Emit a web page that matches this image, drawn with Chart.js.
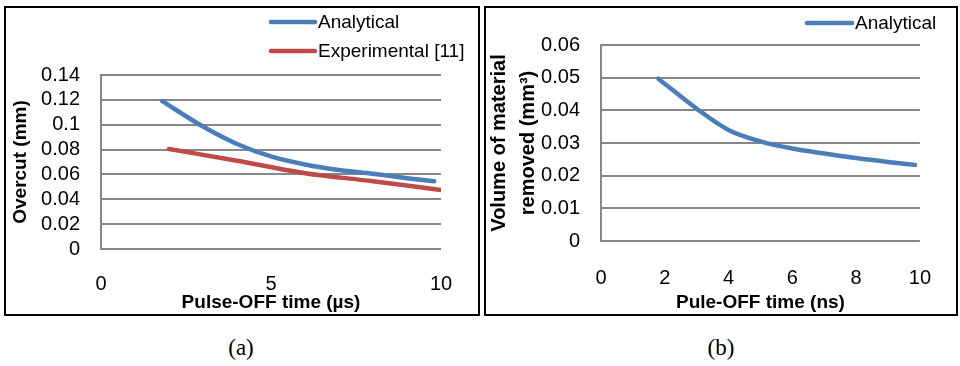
<!DOCTYPE html>
<html>
<head>
<meta charset="utf-8">
<script src="https://cdn.jsdelivr.net/npm/chart.js@4.4.1/dist/chart.umd.min.js"></script>
<style>
  html, body { margin:0; padding:0; background:#fff; }
  body { width:960px; height:366px; position:relative; overflow:hidden; }
  .panel { position:absolute; top:6px; height:310px; border:2px solid #000; box-sizing:border-box; }
  #boxA { left:4px; width:476px; }
  #boxB { left:484px; width:474px; }
  .panel canvas { display:block; }
  .cap { position:absolute; top:335px; width:60px; text-align:center; font-family:'Liberation Serif','Times New Roman',serif; font-size:23px; color:#000; }
</style>
</head>
<body>
<div class="panel" id="boxA"><canvas id="chartA" width="472" height="306"></canvas></div>
<div class="panel" id="boxB"><canvas id="chartB" width="470" height="306"></canvas></div>
<div class="cap" style="left:211px;">(a)</div>
<div class="cap" style="left:691px;">(b)</div>
<script>
// (a) overcut vs pulse-off time
const xAnalyticalA = [1.8, 3, 4, 5, 6, 7, 8, 9, 9.8];
const overcutAnalytical = [0.119, 0.0985, 0.0845, 0.0745, 0.068, 0.0635, 0.0605, 0.057, 0.0545];
const xExperimentalA = [2, 4, 6, 8, 10];
const overcutExperimental = [0.0805, 0.071, 0.061, 0.0545, 0.0475];
const xTickLabelsA = ['0', '5', '10'];
const yTickLabelsA = ['0', '0.02', '0.04', '0.06', '0.08', '0.1', '0.12', '0.14'];

// (b) volume removed vs pulse-off time
const xAnalyticalB = [1.8, 3, 4, 5, 6, 7, 8, 9, 9.85];
const volumeAnalytical = [0.0497, 0.0405, 0.034, 0.0305, 0.0283, 0.0268, 0.0254, 0.0242, 0.0233];
const xTickLabelsB = ['0', '2', '4', '6', '8', '10'];
const yTickLabelsB = ['0', '0.01', '0.02', '0.03', '0.04', '0.05', '0.06'];

const BLUE = '#4A7EBB', RED = '#BE4B48', GRID = '#878787';
Chart.defaults.font.family = "'Liberation Sans', Arial, sans-serif";
Chart.defaults.color = '#000';

const pts = (xs, ys) => xs.map((x, i) => ({ x: x, y: ys[i] }));

// legend drawn as stacked rows, line sample then label
const lineLegend = {
  id: 'lineLegend',
  afterDraw(chart, args, opts) {
    const ctx = chart.ctx;
    ctx.save();
    chart.data.datasets.forEach((ds, i) => {
      const y = opts.y + i * opts.rowGap;
      ctx.strokeStyle = ds.borderColor;
      ctx.lineWidth = ds.borderWidth;
      ctx.lineCap = 'round';
      ctx.beginPath(); ctx.moveTo(opts.x, y); ctx.lineTo(opts.x + opts.len, y); ctx.stroke();
      ctx.fillStyle = '#000';
      ctx.font = opts.font;
      ctx.textBaseline = 'middle';
      ctx.fillText(ds.label, opts.x + opts.len + 3, y + 1);
    });
    ctx.restore();
  }
};

function series(label, xs, ys, color) {
  return { label, data: pts(xs, ys), showLine: true, borderColor: color, backgroundColor: color,
    borderWidth: 4.5, borderCapStyle: 'round', pointRadius: 0, cubicInterpolationMode: 'monotone' };
}

function makeChart(id, cfg) {
  return new Chart(document.getElementById(id), {
    type: 'scatter',
    data: { datasets: cfg.datasets },
    plugins: [lineLegend],
    options: {
      responsive: false, animation: false,
      layout: { padding: cfg.pad },
      plugins: { legend: { display: false }, tooltip: { enabled: false }, lineLegend: cfg.legend },
      scales: {
        x: {
          type: 'linear', min: 0, max: 10,
          grid: { display: false, drawTicks: false }, border: { display: false },
          ticks: { stepSize: cfg.xStep, padding: cfg.xPad, font: { size: 20 }, maxRotation: 0, autoSkip: false,
            callback: (v, i) => cfg.xLabels[i] },
          title: { display: true, text: cfg.xTitle, font: { size: 19, weight: 'bold' }, padding: { top: 0, bottom: 0 } },
          afterFit: s => { s.height = cfg.xH; }
        },
        y: {
          min: 0, max: cfg.yMax,
          grid: { color: GRID, lineWidth: 2, drawTicks: false },
          border: { display: true, color: GRID, width: 2 },
          ticks: { stepSize: cfg.yStep, padding: 21, font: { size: 20 }, autoSkip: false,
            callback: (v, i) => cfg.yLabels[i] },
          title: { display: true, text: cfg.yTitle, font: cfg.yFont, padding: { top: cfg.yTitlePad, bottom: 0 } },
          afterFit: s => { s.width = cfg.yW; }
        }
      }
    }
  });
}

makeChart('chartA', {
  datasets: [
    series('Analytical', xAnalyticalA, overcutAnalytical, BLUE),
    series('Experimental [11]', xExperimentalA, overcutExperimental, RED)
  ],
  pad: { top: 67, right: 37, bottom: 0, left: 0 },
  legend: { x: 265, y: 14, rowGap: 29, len: 44, font: "19px 'Liberation Sans', Arial, sans-serif" },
  xStep: 5, xLabels: xTickLabelsA, xPad: 23, xH: 65, xTitle: 'Pulse-OFF time (µs)',
  yMax: 0.14, yStep: 0.02, yLabels: yTickLabelsA, yW: 95,
  yTitle: 'Overcut (mm)', yFont: { size: 19, weight: 'bold' }, yTitlePad: 3
});

makeChart('chartB', {
  datasets: [series('Analytical', xAnalyticalB, volumeAnalytical, BLUE)],
  pad: { top: 37, right: 13, bottom: 0, left: 0 },
  legend: { x: 321, y: 15, rowGap: 29, len: 45, font: "19px 'Liberation Sans', Arial, sans-serif" },
  xStep: 2, xLabels: xTickLabelsB, xPad: 25, xH: 73, xTitle: 'Pule-OFF time (ns)',
  yMax: 0.06, yStep: 0.01, yLabels: yTickLabelsB, yW: 115,
  yTitle: ['Volume of material', 'removed (mm³)'], yFont: { size: 20, weight: 'bold', lineHeight: 1.45 }, yTitlePad: -1
});
</script>
</body>
</html>
